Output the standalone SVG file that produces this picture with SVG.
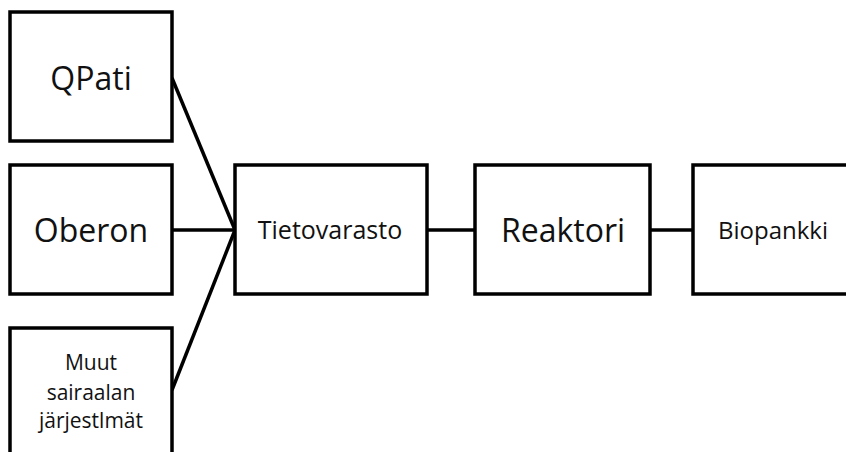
<svg xmlns="http://www.w3.org/2000/svg" width="846" height="452" viewBox="0 0 846 452">
  <style>
    .box { fill: #ffffff; stroke: #000000; stroke-width: 3.5; }
    .link { stroke: #000000; stroke-width: 3.5; fill: none; }
    text { font-family: "Open Sans", "Liberation Sans", sans-serif; fill: #111111; text-anchor: middle; }
    .big { font-size: 32px; }
    .mid { font-size: 25px; }
    .bio { font-size: 24px; }
    .small { font-size: 21px; }
  </style>
  <rect width="846" height="452" fill="#ffffff"/>
  <g id="connectors">
    <line class="link" x1="172" y1="78" x2="235" y2="230"/>
    <line class="link" x1="172" y1="230" x2="235" y2="230"/>
    <line class="link" x1="172" y1="390" x2="235" y2="230"/>
    <line class="link" x1="427" y1="230" x2="475" y2="230"/>
    <line class="link" x1="650" y1="230" x2="693" y2="230"/>
  </g>
  <g id="qpati">
    <rect class="box" x="10" y="12" width="162" height="129"/>
    <text class="big" x="91" y="90">QPati</text>
  </g>
  <g id="oberon">
    <rect class="box" x="10" y="165" width="162" height="129"/>
    <text class="big" x="91" y="242">Oberon</text>
  </g>
  <g id="muut">
    <rect class="box" x="10" y="328" width="162" height="140"/>
    <text class="small" x="91" y="370">Muut</text>
    <text class="small" x="91" y="400">sairaalan</text>
    <text class="small" x="91" y="428">järjestlmät</text>
  </g>
  <g id="tietovarasto">
    <rect class="box" x="235" y="165" width="192" height="129"/>
    <text class="mid" x="330" y="239">Tietovarasto</text>
  </g>
  <g id="reaktori">
    <rect class="box" x="475" y="165" width="175" height="129"/>
    <text class="big" x="563" y="242">Reaktori</text>
  </g>
  <g id="biopankki">
    <rect class="box" x="693" y="165" width="170" height="129"/>
    <text class="bio" x="773" y="239">Biopankki</text>
  </g>
</svg>
